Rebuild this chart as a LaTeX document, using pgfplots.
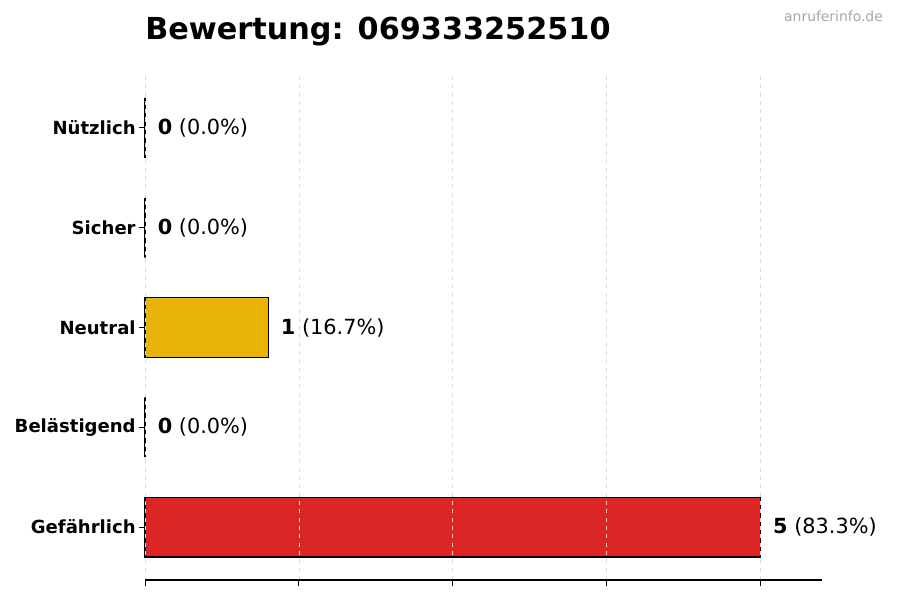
\documentclass[border=0pt]{standalone}
\usepackage{fontspec}
\setmainfont{DejaVu Sans}
\usepackage{pgfplots}
\pgfplotsset{compat=1.18}
\definecolor{rot}{HTML}{DC2626}
\definecolor{gelb}{HTML}{EAB308}
\definecolor{gruen}{HTML}{16A34A}
\definecolor{blau}{HTML}{2563EB}
\definecolor{orange}{HTML}{EA580C}
\begin{document}
\begin{tikzpicture}
\useasboundingbox (-104.4pt,-14.4pt) rectangle (543.6pt,417.6pt);
\begin{axis}[
  at={(0pt,0pt)}, anchor=south west,
  width=487.4pt, height=363.6pt, scale only axis,
  xbar, bar width=0.6, /pgf/bar shift=0pt,
  xmin=0, xmax=5.5, ymin=-0.53, ymax=4.53,
  xtick={0,1.25,2.5,3.75,5}, xticklabels={,,,,},
  ytick={0,1,2,3,4},
  yticklabels={Gefährlich,Belästigend,Neutral,Sicher,Nützlich},
  yticklabel style={font=\fontsize{13}{15}\selectfont\bfseries, xshift=0.8pt},
  axis x line*=bottom, axis y line*=left,
  y axis line style={draw=none},
  x axis line style={line width=0.8pt},
  tick align=outside, major tick length=4pt,
  tick style={black, line width=0.6pt},
  xmajorgrids, grid style={dashed, gray!30, line width=0.5pt},
  axis on top,
  nodes near coords, point meta=explicit symbolic,
  every node near coord/.append style={font=\fontsize{15}{18}\selectfont, anchor=west, xshift=5.5pt},
  clip=false,
]
\addplot[fill=rot, draw=black, line width=0.8pt] coordinates {(5,0) [\textbf{5} (83.3\%)]};
\addplot[fill=orange, draw=black, line width=0.8pt] coordinates {(0,1) [\textbf{0} (0.0\%)]};
\addplot[fill=gelb, draw=black, line width=0.8pt] coordinates {(1,2) [\textbf{1} (16.7\%)]};
\addplot[fill=blau, draw=black, line width=0.8pt] coordinates {(0,3) [\textbf{0} (0.0\%)]};
\addplot[fill=gruen, draw=black, line width=0.8pt] coordinates {(0,4) [\textbf{0} (0.0\%)]};
\end{axis}
\node[anchor=base west, inner sep=0pt, font=\fontsize{21.8}{26}\selectfont\bfseries] at (0pt,388.8pt) {Bewertung: 069333252510};
\node[anchor=base east, inner sep=0pt, font=\fontsize{10}{12}\selectfont, text=gray!70] at (531.4pt,401.8pt) {anruferinfo.de};
\end{tikzpicture}
\end{document}
